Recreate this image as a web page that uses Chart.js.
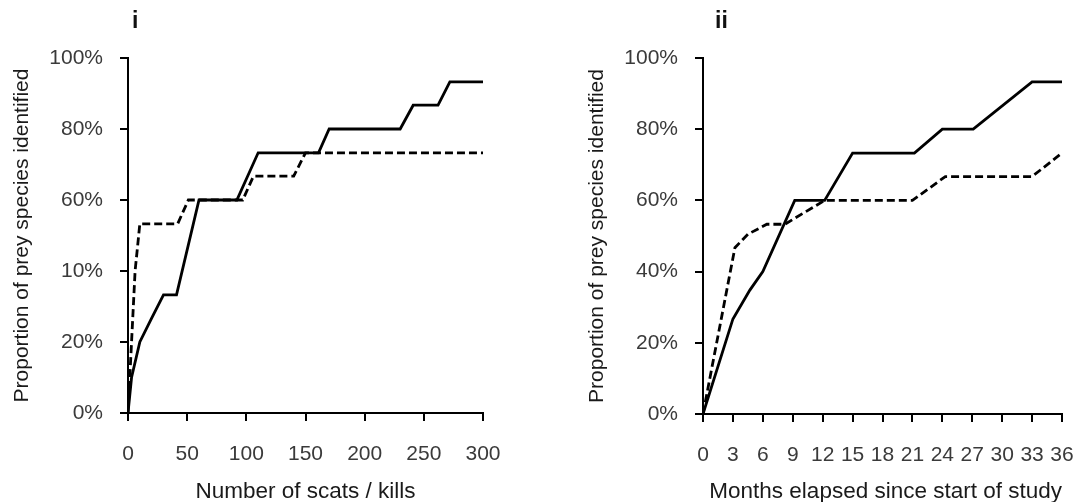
<!DOCTYPE html>
<html>
<head>
<meta charset="utf-8">
<script src="https://cdn.jsdelivr.net/npm/chart.js@4/dist/chart.umd.min.js"></script>
<style>
  html, body { margin: 0; padding: 0; background: #fff; }
  #wrap { position: relative; width: 1081px; height: 502px; overflow: hidden; }
  canvas { position: absolute; top: 0; }
  #c1 { left: 0; }
  #c2 { left: 540px; }
</style>
</head>
<body>
<div id="wrap">
  <canvas id="c1" width="540" height="502"></canvas>
  <canvas id="c2" width="541" height="502"></canvas>
</div>
<script>
// ---------- Data ----------
const panelTitles = ['i', 'ii'];
const xTitleI = 'Number of scats / kills';
const xTitleII = 'Months elapsed since start of study';
const yTitle = 'Proportion of prey species identified';

const yTickLabelsI = ['0%', '20%', '10%', '60%', '80%', '100%'];
const yTickLabelsII = ['0%', '20%', '40%', '60%', '80%', '100%'];

// Panel i: sample effort (scats / kills)
const solidIx = [0, 3, 10, 20, 30, 41, 60, 92, 110, 161, 170, 230, 241, 262, 272, 300];
const solidIy = [0, 10, 20, 26.7, 33.3, 33.3, 60, 60, 73.3, 73.3, 80, 80, 86.7, 86.7, 93.3, 93.3];
const dashedIx = [0, 2, 6, 10, 42, 51, 97, 106, 140, 150, 300];
const dashedIy = [0, 13.3, 40, 53.3, 53.3, 60, 60, 66.7, 66.7, 73.3, 73.3];

// Panel ii: months elapsed
const solidIIx = [0, 3, 4.7, 6, 9.2, 12.2, 15, 21.2, 24, 27.1, 33, 36];
const solidIIy = [0, 26.7, 34.8, 40, 60, 60, 73.3, 73.3, 80, 80, 93.3, 93.3];
const dashedIIx = [0, 3.2, 4.5, 6.4, 8.2, 12.2, 21, 24.3, 33, 36];
const dashedIIy = [0, 46.7, 50.5, 53.3, 53.3, 60, 60, 66.7, 66.7, 73.3];

const xTicksI = [0, 50, 100, 150, 200, 250, 300];
const xTicksII = [0, 3, 6, 9, 12, 15, 18, 21, 24, 27, 30, 33, 36];
const yTicks = [0, 20, 40, 60, 80, 100];

// ---------- Helpers ----------
const FONT = "'Liberation Sans', Arial, Helvetica, sans-serif";
const zip = (xs, ys) => xs.map((x, i) => ({ x: x, y: ys[i] }));

const panelTitlePlugin = {
  id: 'panelTitle',
  afterDraw(chart, args, opts) {
    const ctx = chart.ctx;
    ctx.save();
    ctx.font = 'bold 23px ' + FONT;
    ctx.fillStyle = '#111';
    ctx.textBaseline = 'alphabetic';
    ctx.textAlign = 'left';
    ctx.fillText(opts.text, chart.chartArea.left + opts.dx, opts.y);
    ctx.restore();
  }
};

function makeChart(id, cfg) {
  const lineCommon = {
    borderColor: '#000',
    borderWidth: 2.8,
    pointRadius: 0,
    tension: 0,
    fill: false
  };
  return new Chart(document.getElementById(id), {
    type: 'line',
    data: {
      datasets: [
        Object.assign({ label: 'solid', data: zip(cfg.sx, cfg.sy) }, lineCommon),
        Object.assign({ label: 'dashed', data: zip(cfg.dx, cfg.dy), borderDash: [8, 4] }, lineCommon)
      ]
    },
    plugins: [panelTitlePlugin],
    options: {
      responsive: false,
      animation: false,
      events: [],
      layout: { padding: { top: 58, left: 0, right: cfg.padRight, bottom: 0 } },
      plugins: {
        legend: { display: false },
        tooltip: { enabled: false },
        panelTitle: { text: cfg.title, dx: cfg.titleDx, y: 28 }
      },
      scales: {
        x: {
          type: 'linear',
          min: 0,
          max: cfg.xMax,
          afterFit: s => { s.height = cfg.xHeight; },
          afterBuildTicks: s => { s.ticks = cfg.xTicks.map(v => ({ value: v })); },
          border: { display: true, color: '#000', width: 2 },
          grid: { drawOnChartArea: false, drawTicks: true, tickLength: 8, color: '#000', lineWidth: 2 },
          ticks: {
            autoSkip: false, maxRotation: 0, padding: 4,
            color: '#3a3a3a', font: { family: FONT, size: 21, lineHeight: 2.8 },
            callback: v => String(v)
          },
          title: {
            display: true, text: cfg.xTitle, color: '#1a1a1a', align: cfg.xTitleAlign,
            font: { family: FONT, size: 22.5, lineHeight: 0.9 }, padding: { top: 0, bottom: 0 }
          }
        },
        y: {
          type: 'linear',
          min: 0,
          max: 100,
          afterFit: s => { s.width = cfg.yWidth; },
          afterBuildTicks: s => { s.ticks = yTicks.map(v => ({ value: v })); },
          border: { display: true, color: '#000', width: 2 },
          grid: { drawOnChartArea: false, drawTicks: true, tickLength: 8, color: '#000', lineWidth: 2 },
          ticks: {
            padding: 17,
            color: '#3a3a3a', font: { family: FONT, size: 21 },
            callback: v => cfg.yLabels[yTicks.indexOf(v)]
          },
          title: {
            display: true, text: yTitle, color: '#1a1a1a',
            font: { family: FONT, size: 21 }, padding: { top: cfg.yTitlePad, bottom: 0 }
          }
        }
      }
    }
  });
}

makeChart('c1', {
  title: panelTitles[0], titleDx: 4,
  sx: solidIx, sy: solidIy, dx: dashedIx, dy: dashedIy,
  xMax: 300, xTicks: xTicksI, xTitle: xTitleI, xTitleAlign: 'center', yLabels: yTickLabelsI,
  padRight: 57, yWidth: 128, xHeight: 89, yTitlePad: 10
});

makeChart('c2', {
  title: panelTitles[1], titleDx: 12,
  sx: solidIIx, sy: solidIIy, dx: dashedIIx, dy: dashedIIy,
  xMax: 36, xTicks: xTicksII, xTitle: xTitleII, xTitleAlign: 'end', yLabels: yTickLabelsII,
  padRight: 19, yWidth: 163, xHeight: 88, yTitlePad: 45
});
</script>
</body>
</html>
